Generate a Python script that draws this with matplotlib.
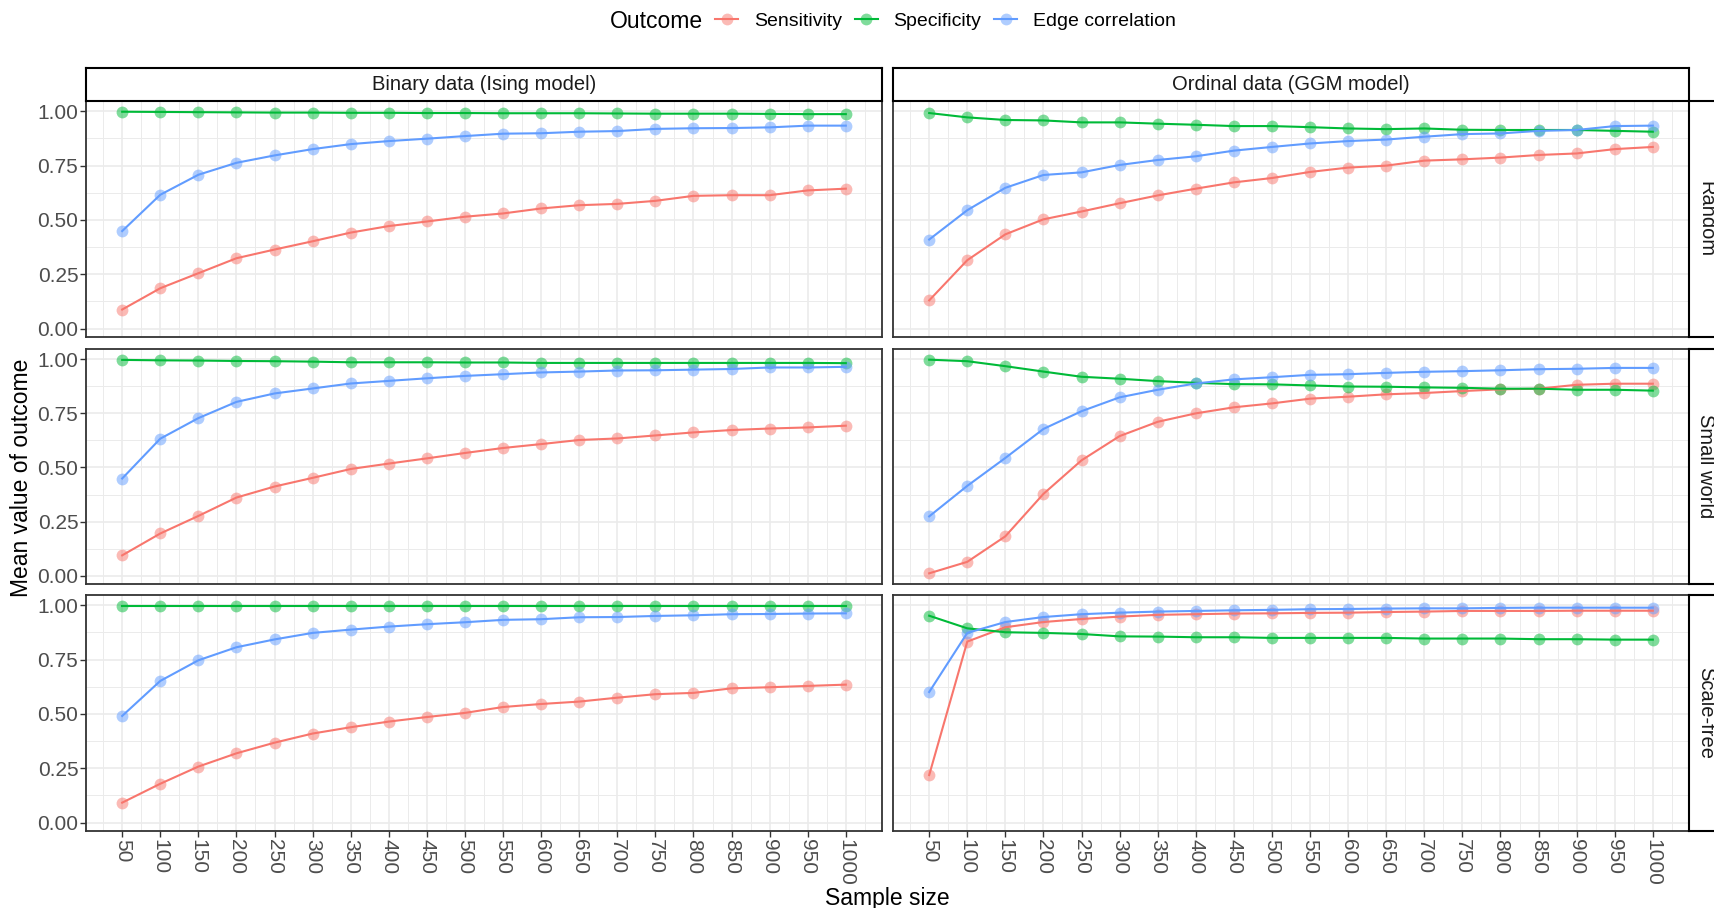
import matplotlib
matplotlib.use("Agg")
import matplotlib.pyplot as plt
from matplotlib.lines import Line2D

plt.rcParams["font.family"] = ["Liberation Sans", "DejaVu Sans"]

sample_sizes = list(range(50, 1001, 50))
outcomes = ["Sensitivity", "Specificity", "Edge correlation"]
colors = ["#F8766D", "#00BA38", "#619CFF"]
col_labels = ["Binary data (Ising model)", "Ordinal data (GGM model)"]
row_labels = ["Random", "Small world", "Scale-free"]

# binary data (Ising model)
bin_random_sens = [0.088, 0.186, 0.255, 0.324, 0.364, 0.402, 0.442, 0.472, 0.493, 0.515,
                   0.530, 0.553, 0.568, 0.574, 0.588, 0.611, 0.614, 0.614, 0.636, 0.644]
bin_random_spec = [0.998, 0.997, 0.996, 0.995, 0.994, 0.994, 0.993, 0.993, 0.992, 0.992,
                   0.991, 0.991, 0.991, 0.990, 0.989, 0.989, 0.989, 0.988, 0.987, 0.987]
bin_random_corr = [0.449, 0.616, 0.708, 0.763, 0.797, 0.826, 0.849, 0.863, 0.874, 0.886,
                   0.897, 0.899, 0.906, 0.909, 0.919, 0.922, 0.923, 0.926, 0.934, 0.934]

bin_small_sens = [0.094, 0.195, 0.276, 0.361, 0.412, 0.452, 0.493, 0.518, 0.542, 0.567,
                  0.590, 0.608, 0.627, 0.634, 0.648, 0.662, 0.673, 0.680, 0.685, 0.693]
bin_small_spec = [0.997, 0.995, 0.994, 0.992, 0.991, 0.989, 0.986, 0.986, 0.986, 0.985,
                  0.985, 0.983, 0.983, 0.983, 0.983, 0.983, 0.983, 0.983, 0.983, 0.982]
bin_small_corr = [0.449, 0.633, 0.728, 0.803, 0.842, 0.865, 0.888, 0.900, 0.912, 0.923,
                  0.931, 0.939, 0.943, 0.948, 0.949, 0.952, 0.955, 0.962, 0.962, 0.965]

bin_scale_sens = [0.092, 0.179, 0.258, 0.319, 0.368, 0.410, 0.439, 0.465, 0.486, 0.505,
                  0.532, 0.546, 0.557, 0.575, 0.591, 0.597, 0.618, 0.623, 0.629, 0.635]
bin_scale_spec = [0.998, 0.998, 0.998, 0.998, 0.998, 0.998, 0.998, 0.998, 0.998, 0.998,
                  0.998, 0.998, 0.998, 0.998, 0.998, 0.998, 0.998, 0.998, 0.998, 0.998]
bin_scale_corr = [0.491, 0.652, 0.747, 0.807, 0.843, 0.873, 0.888, 0.902, 0.913, 0.922,
                  0.933, 0.936, 0.945, 0.946, 0.951, 0.954, 0.959, 0.960, 0.962, 0.963]

# ordinal data (GGM model)
ord_random_sens = [0.130, 0.315, 0.434, 0.503, 0.539, 0.577, 0.613, 0.644, 0.673, 0.693,
                   0.721, 0.741, 0.750, 0.773, 0.779, 0.787, 0.799, 0.806, 0.826, 0.836]
ord_random_spec = [0.992, 0.972, 0.960, 0.958, 0.949, 0.949, 0.943, 0.938, 0.932, 0.932,
                   0.927, 0.921, 0.918, 0.921, 0.915, 0.914, 0.914, 0.914, 0.910, 0.906]
ord_random_corr = [0.410, 0.545, 0.648, 0.707, 0.719, 0.753, 0.776, 0.793, 0.819, 0.836,
                   0.852, 0.863, 0.870, 0.883, 0.895, 0.898, 0.910, 0.914, 0.932, 0.934]

ord_small_sens = [0.011, 0.064, 0.182, 0.378, 0.533, 0.645, 0.711, 0.750, 0.778, 0.796,
                  0.818, 0.827, 0.838, 0.844, 0.853, 0.861, 0.864, 0.882, 0.887, 0.887]
ord_small_spec = [0.998, 0.991, 0.968, 0.943, 0.919, 0.910, 0.899, 0.891, 0.885, 0.884,
                  0.879, 0.874, 0.873, 0.870, 0.868, 0.864, 0.864, 0.859, 0.859, 0.855]
ord_small_corr = [0.274, 0.415, 0.544, 0.678, 0.760, 0.824, 0.859, 0.888, 0.907, 0.917,
                  0.928, 0.931, 0.937, 0.942, 0.945, 0.949, 0.954, 0.956, 0.960, 0.960]

ord_scale_sens = [0.219, 0.833, 0.899, 0.923, 0.937, 0.948, 0.956, 0.959, 0.962, 0.963,
                  0.965, 0.966, 0.969, 0.971, 0.974, 0.974, 0.974, 0.975, 0.975, 0.975]
ord_scale_spec = [0.952, 0.894, 0.876, 0.873, 0.868, 0.857, 0.856, 0.853, 0.853, 0.850,
                  0.850, 0.850, 0.850, 0.847, 0.847, 0.847, 0.844, 0.844, 0.842, 0.842]
ord_scale_corr = [0.601, 0.873, 0.923, 0.946, 0.959, 0.966, 0.971, 0.974, 0.977, 0.979,
                  0.982, 0.983, 0.985, 0.986, 0.986, 0.988, 0.989, 0.989, 0.989, 0.989]

panels = [
    [(bin_random_sens, bin_random_spec, bin_random_corr),
     (ord_random_sens, ord_random_spec, ord_random_corr)],
    [(bin_small_sens, bin_small_spec, bin_small_corr),
     (ord_small_sens, ord_small_spec, ord_small_corr)],
    [(bin_scale_sens, bin_scale_spec, bin_scale_corr),
     (ord_scale_sens, ord_scale_spec, ord_scale_corr)],
]

W, H = 1714, 908
fig = plt.figure(figsize=(W / 100, H / 100), dpi=100)


def box(x0, y0, x1, y1):
    # pixel box (top-left origin) -> figure fraction rect
    return [x0 / W, 1 - y1 / H, (x1 - x0) / W, (y1 - y0) / H]


col_x = [(86, 882), (893, 1689)]
row_y = [(101, 337), (349, 584), (595, 831)]

all_vals = [v for row in panels for p in row for s in p for v in s]
lo, hi = min(all_vals), max(all_vals)
pad = 0.05 * (hi - lo)
xpad = 0.05 * (sample_sizes[-1] - sample_sizes[0])

GRID = "#EBEBEB"
BORDER = "#333333"
TXT = "#4D4D4D"
MS = 8.5
LW = 1.5

for r in range(3):
    for c in range(2):
        ax = fig.add_axes(box(col_x[c][0], row_y[r][0], col_x[c][1], row_y[r][1]))
        for series, col in zip(panels[r][c], colors):
            ax.plot(sample_sizes, series, "o", color=col, ms=MS, alpha=0.5,
                    mec="none", zorder=2)
            ax.plot(sample_sizes, series, "-", color=col, lw=LW, zorder=3)
        ax.set_xlim(sample_sizes[0] - xpad, sample_sizes[-1] + xpad)
        ax.set_ylim(lo - pad, hi + pad)
        ax.set_xticks(sample_sizes)
        ax.set_xticks(range(25, 1026, 50), minor=True)
        ax.set_yticks([0, 0.25, 0.5, 0.75, 1.0])
        ax.set_yticks([0.125, 0.375, 0.625, 0.875], minor=True)
        ax.grid(which="major", color=GRID, lw=1.2, zorder=0)
        ax.grid(which="minor", color=GRID, lw=0.7, zorder=0)
        ax.set_axisbelow(True)
        for sp in ax.spines.values():
            sp.set_color(BORDER)
            sp.set_linewidth(1.3)
        ax.tick_params(which="minor", length=0)
        ax.tick_params(which="major", length=4, width=1.0, color=BORDER,
                       labelcolor=TXT, labelsize=15, pad=1.5)
        if c == 0:
            ax.set_yticklabels(["0.00", "0.25", "0.50", "0.75", "1.00"])
        else:
            ax.tick_params(axis="y", length=0, labelleft=False)
        if r == 2:
            ax.set_xticklabels([str(s) for s in sample_sizes], rotation=-90,
                               va="top", ha="center")
        else:
            ax.tick_params(axis="x", length=0, labelbottom=False)

# facet strips
for c in range(2):
    sx = fig.add_axes(box(col_x[c][0], 68, col_x[c][1], 101))
    sx.set_xticks([])
    sx.set_yticks([])
    for sp in sx.spines.values():
        sp.set_color("black")
        sp.set_linewidth(1.5)
    sx.text(0.5, 0.5, col_labels[c], ha="center", va="center", fontsize=14.5,
            color="#1A1A1A", transform=sx.transAxes)

for r in range(3):
    sx = fig.add_axes(box(1689, row_y[r][0], 1723, row_y[r][1]))
    sx.set_xticks([])
    sx.set_yticks([])
    for sp in sx.spines.values():
        sp.set_color("black")
        sp.set_linewidth(1.5)
    sx.text(0.5, 0.5, row_labels[r], ha="center", va="center", fontsize=14.5,
            color="#1A1A1A", rotation=-90, transform=sx.transAxes)

# axis titles
fig.text(0.5 * (86 + 1689) / W, 1 - 899 / H, "Sample size", ha="center",
         va="center", fontsize=16.5)
fig.text(22 / W, 1 - 478 / H, "Mean value of outcome", ha="center",
         va="center", rotation=90, fontsize=16.5)

# legend
fig.text(703 / W, 1 - 21 / H, "Outcome", ha="right", va="center", fontsize=16.5)
handles = [Line2D([], [], color=col, lw=LW, marker="o", ms=MS,
                  markerfacecolor=col + "80", markeredgecolor="none")
           for col in colors]
fig.legend(handles, outcomes, loc="center left",
           bbox_to_anchor=(715 / W, 1 - 21 / H), ncol=3, frameon=False,
           fontsize=14, handlelength=1.2, handletextpad=0.8,
           columnspacing=0.65, borderaxespad=0, borderpad=0)

fig.savefig("out.png", dpi=100, facecolor="white")
